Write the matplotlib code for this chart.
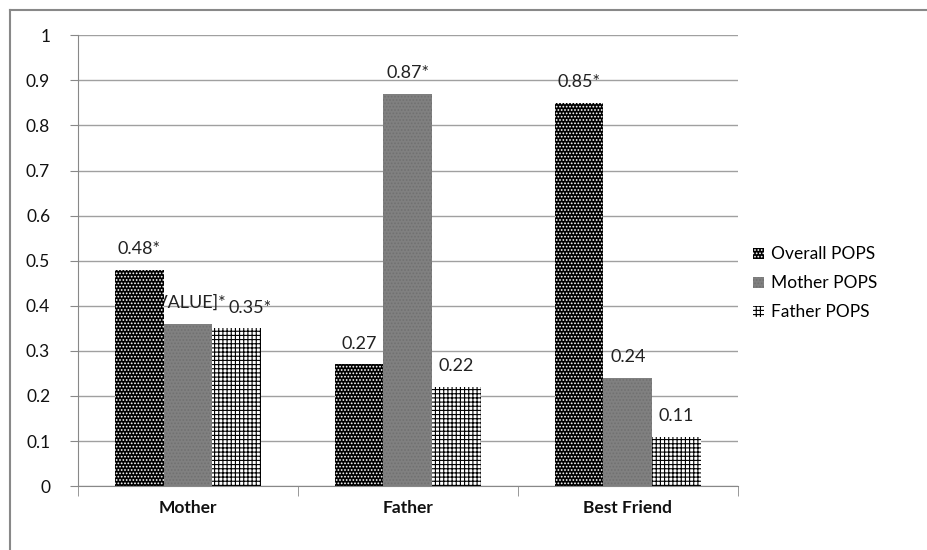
import numpy as np
import matplotlib.pyplot as plt
from matplotlib.lines import Line2D

# Données
categories = ['Mother', 'Father', 'Best Friend']
series = ['Overall POPS', 'Mother POPS', 'Father POPS']
overall = [0.48, 0.27, 0.85]
mother = [0.36, 0.87, 0.24]
father = [0.35, 0.22, 0.11]
labels_overall = ['0.48*', '0.27', '0.85*']
labels_mother = ['[VALUE]*', '0.87*', '0.24']
labels_father = ['0.35*', '0.22', '0.11']

plt.rcParams['font.family'] = ['Lato', 'DejaVu Sans']
plt.rcParams['hatch.linewidth'] = 0.8

fig = plt.figure(figsize=(9.28, 5.5), dpi=100)
ax = fig.add_axes([0.084, 0.116, 0.711, 0.82])

# Cadre de la figure (haut et gauche)
fig.add_artist(Line2D([0.011, 1.0], [0.982, 0.982], transform=fig.transFigure, color='#888888', lw=1.5))
fig.add_artist(Line2D([0.011, 0.011], [0.0, 0.982], transform=fig.transFigure, color='#888888', lw=1.5))

x = np.arange(len(categories))
w = 0.222

b1 = ax.bar(x - w, overall, w, color='black', edgecolor='white', hatch='.....', lw=0, zorder=3)
b2 = ax.bar(x, mother, w, color='#808080', edgecolor='#707070', hatch='.....', lw=0, zorder=3)
b3 = ax.bar(x + w, father, w, color='white', edgecolor='black', hatch='++++', lw=0, zorder=3)

for bars, vals, labs in [(b1, overall, labels_overall), (b2, mother, labels_mother), (b3, father, labels_father)]:
    for rect, v, lab in zip(bars, vals, labs):
        dx = 0.06 if lab == '0.35*' else 0.0
        ax.text(rect.get_x() + rect.get_width() / 2 + dx, v + 0.028, lab, ha='center', va='bottom',
                fontsize=13, color='#222222', zorder=2)

ax.set_xlim(-0.5, 2.5)
ax.set_ylim(0, 1)
ax.set_yticks(np.arange(0, 1.01, 0.1))
ax.set_yticklabels(['0', '0.1', '0.2', '0.3', '0.4', '0.5', '0.6', '0.7', '0.8', '0.9', '1'],
                   fontsize=12.5, color='#111111')
ax.yaxis.grid(True, color='#a0a0a0', lw=1, zorder=0)
ax.set_axisbelow(True)

ax.set_xticks(x)
ax.set_xticklabels(categories, fontsize=12.5, fontweight='bold', color='#111111')
ax.tick_params(axis='x', length=0, pad=10)
ax.set_xticks([-0.5, 0.5, 1.5, 2.5], minor=True)
ax.tick_params(axis='x', which='minor', length=7, color='#888888')
ax.tick_params(axis='y', length=6, color='#888888', pad=14)

for s in ['top', 'right']:
    ax.spines[s].set_visible(False)
ax.spines['left'].set_color('#888888')
ax.spines['bottom'].set_color('#888888')

ax.legend([b1, b2, b3], series, loc='center left', bbox_to_anchor=(1.0, 0.45), frameon=False,
          fontsize=12.5, handlelength=0.6, handleheight=0.6, handletextpad=0.4, labelspacing=0.75)

plt.savefig('out.png', dpi=100)
